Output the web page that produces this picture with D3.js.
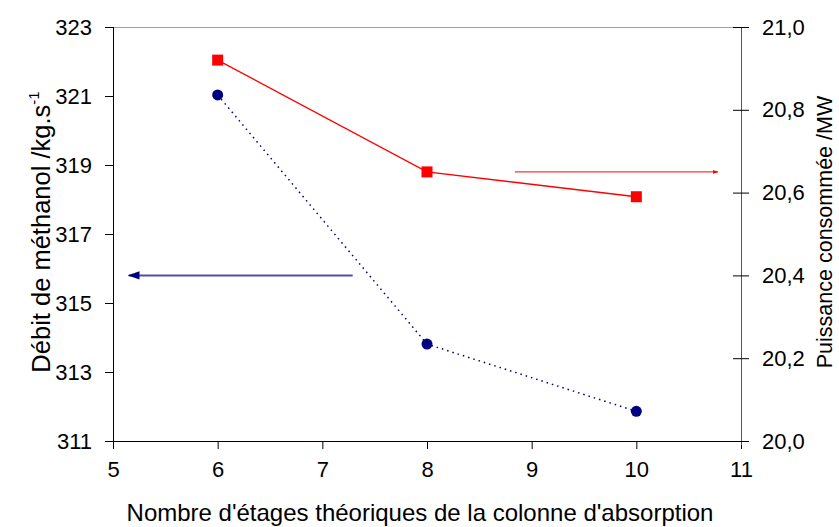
<!DOCTYPE html>
<html><head><meta charset="utf-8">
<script src="https://cdn.jsdelivr.net/npm/d3@7"></script>
<style>
body{margin:0;background:#fff;}
text{font-family:"Liberation Sans",Arial,sans-serif;}
</style></head>
<body><svg id="c" width="839" height="527"></svg>
<script>
const xTicks = [5,6,7,8,9,10,11];
const leftTicks = [311,313,315,317,319,321,323];
const rightTicks = [20.0,20.2,20.4,20.6,20.8,21.0];
const stages = [6,8,10];
const methanolFlow = [321.03,313.81,311.86];
const powerMW = [20.92,20.65,20.59];
const xTitle = "Nombre d'étages théoriques de la colonne d'absorption";
const leftTitle = "Débit de méthanol /kg.s";
const rightTitle = "Puissance consommée /MW";
// annotation arrows (data coordinates)
const blueArrow = {x:[7.29,5.15], y:315.8};
const redArrow = {x:[8.84,10.78], y:20.65};

const svg = d3.select("#c");
const L=113,R=741,T=27,B=441;
const x = d3.scaleLinear().domain([5,11]).range([L,R]);
const yl = d3.scaleLinear().domain([311,323]).range([B,T]);
const yr = d3.scaleLinear().domain([20,21]).range([B,T]);

const defs = svg.append("defs");
function marker(id,color){
  defs.append("marker").attr("id",id).attr("viewBox","0 0 10 10").attr("refX",9).attr("refY",5)
   .attr("markerWidth",6).attr("markerHeight",6).attr("orient","auto")
   .append("path").attr("d","M0,1.5L10,5L0,8.5Z").attr("fill",color);
}
marker("ab","#000080"); marker("ar","#ff0000");

// frame top
svg.append("line").attr("x1",L).attr("x2",R).attr("y1",T+0.5).attr("y2",T+0.5).attr("stroke","#a0a0a0");

const fs = 22;
// bottom axis
const gx = svg.append("g").attr("transform",`translate(0,${B})`)
  .call(d3.axisBottom(x).tickValues(xTicks).tickSize(8).tickPadding(12).tickFormat(d3.format("d")));
gx.selectAll("text").attr("font-size",fs).attr("fill","#000");
gx.selectAll("line,path").attr("stroke","#000");
gx.select(".domain").attr("d",`M${L},0.5H${R}`);

// left axis
const gl = svg.append("g").attr("transform",`translate(${L},0)`)
  .call(d3.axisLeft(yl).tickValues(leftTicks).tickSize(8).tickPadding(13).tickFormat(d3.format("d")));
gl.selectAll("text").attr("font-size",fs).attr("fill","#000");
gl.selectAll("line,path").attr("stroke","#000");
gl.select(".domain").attr("d",`M0.5,${T}V${B+3}`);

// right axis
const gr = svg.append("g").attr("transform",`translate(${R},0)`)
  .call(d3.axisRight(yr).tickValues(rightTicks).tickSize(8).tickPadding(13).tickFormat(d=>d3.format(".1f")(d).replace(".",",")));
gr.selectAll("text").attr("font-size",fs).attr("fill","#000");
gr.selectAll(".tick line").attr("stroke","#000").attr("x1",-8).attr("x2",8);
gr.select(".domain").attr("stroke","#555").attr("d",`M0.5,${T}V${B+4}`);

// titles
svg.append("text").attr("x",420).attr("y",521).attr("text-anchor","middle").attr("font-size",24).text(xTitle);
const lt = svg.append("text").attr("transform",`translate(50,232) rotate(-90)`).attr("text-anchor","middle").attr("font-size",25.5);
lt.append("tspan").text(leftTitle);
lt.append("tspan").attr("dy",-11).attr("font-size",15).text("-1");
svg.append("text").attr("transform",`translate(832,232) rotate(-90)`).attr("text-anchor","middle").attr("font-size",21.5).text(rightTitle);

// blue series
const bl = stages.map((s,i)=>[x(s),yl(methanolFlow[i])]);
svg.append("path").attr("d",d3.line()(bl)).attr("fill","none").attr("stroke","#000080").attr("stroke-width",1.5).attr("stroke-dasharray","1.5,4");
svg.selectAll("circle.b").data(bl).enter().append("circle").attr("cx",d=>d[0]).attr("cy",d=>d[1]).attr("r",5.5).attr("fill","#000080");

// red series
const rl = stages.map((s,i)=>[x(s),yr(powerMW[i])]);
svg.append("path").attr("d",d3.line()(rl)).attr("fill","none").attr("stroke","#ff0000").attr("stroke-width",1.3);
svg.selectAll("rect.r").data(rl).enter().append("rect").attr("x",d=>d[0]-5.5).attr("y",d=>d[1]-5.5).attr("width",11).attr("height",11).attr("fill","#ff0000");

// arrows
svg.append("line").attr("x1",x(blueArrow.x[0])).attr("x2",x(blueArrow.x[1])).attr("y1",yl(blueArrow.y)).attr("y2",yl(blueArrow.y))
  .attr("stroke","#5050a0").attr("stroke-width",2).attr("marker-end","url(#ab)");
svg.append("line").attr("x1",x(redArrow.x[0])).attr("x2",x(redArrow.x[1])).attr("y1",yr(redArrow.y)).attr("y2",yr(redArrow.y))
  .attr("stroke","#ff0000").attr("stroke-width",1).attr("marker-end","url(#ar)");
</script></body></html>
